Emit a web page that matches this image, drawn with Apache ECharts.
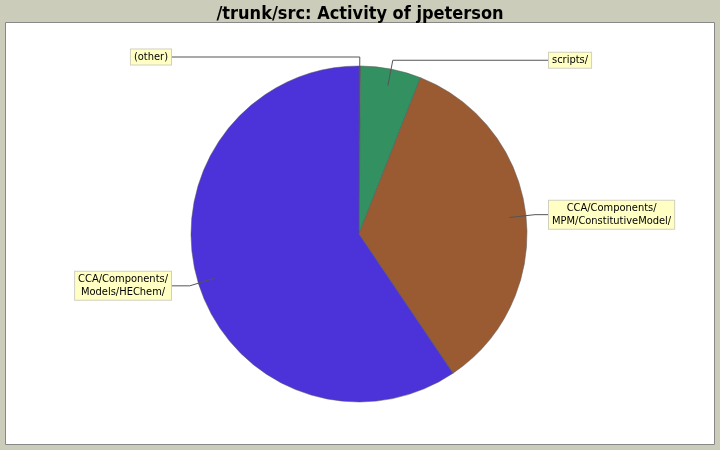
<!DOCTYPE html>
<html>
<head>
<meta charset="utf-8">
<script src="https://cdn.jsdelivr.net/npm/echarts@6/dist/echarts.min.js"></script>
<style>
html,body{margin:0;padding:0;background:#ccccbb;}
#chart{width:720px;height:450px;}
</style>
</head>
<body>
<div id="chart"></div>
<script>
var titleText = '/trunk/src: Activity of jpeterson';
var categories = ['(other)', 'scripts/', 'CCA/Components/\nMPM/ConstitutiveModel/', 'CCA/Components/\nModels/HEChem/'];
var values = [1, 41, 243, 418];
var colors = ['#555555', '#339060', '#9a5b33', '#4b33d9'];

var CX = 359, CY = 234, R = 168;

var chart = echarts.init(document.getElementById('chart'));
var data = categories.map(function (c, i) {
  return { name: c, value: values[i], itemStyle: { color: colors[i] } };
});
var labelData = categories.map(function (c, i) {
  return { name: c, value: values[i] };
});

chart.setOption({
  backgroundColor: '#ccccbb',
  animation: false,
  title: {
    text: titleText,
    left: 'center',
    top: 0,
    textStyle: { fontFamily: 'DejaVu Sans Condensed', fontWeight: 'bold', fontSize: 18, color: '#000' }
  },
  graphic: [{
    type: 'rect', z: -10,
    shape: { x: 5.5, y: 22.5, width: 709, height: 422 },
    style: { fill: '#ffffff', stroke: '#888888', lineWidth: 1 }
  }],
  series: [{
    type: 'pie',
    center: [CX, CY],
    radius: R,
    startAngle: 90,
    clockwise: true,
    data: data,
    itemStyle: { borderColor: '#555555', borderWidth: 0.5 },
    emphasis: { disabled: true },
    label: { show: false },
    labelLine: { show: false },
    z: 2
  }, {
    type: 'pie',
    center: [CX, CY],
    radius: R,
    startAngle: 90,
    clockwise: true,
    avoidLabelOverlap: false,
    silent: true,
    data: labelData,
    z: 5,
    itemStyle: { color: 'rgba(0,0,0,0)', borderWidth: 0 },
    emphasis: { disabled: true },
    label: {
      show: true,
      fontFamily: 'DejaVu Sans Condensed',
      fontSize: 11,
      lineHeight: 13,
      color: '#000',
      backgroundColor: '#ffffc4',
      borderColor: '#d0d0c0',
      borderWidth: 1,
      padding: [1, 3, 1, 3],
      align: 'center'
    },
    labelLine: { show: true, showAbove: true, length: 10, length2: 10, lineStyle: { color: '#555555', width: 1 } },
    labelLayout: function (p) {
      var p0 = p.labelLinePoints[0];
      var dx = p0[0] - CX, dy = p0[1] - CY;
      var len = Math.sqrt(dx * dx + dy * dy);
      dx /= len; dy /= len;
      var inner = [CX + dx * R * 0.9, CY + dy * R * 0.9];
      var elbow = [CX + dx * (R + 9), CY + dy * (R + 9)];
      var right = dx > 0.01;
      var lx = right ? 548 : 172;
      var w = p.labelRect.width;
      return {
        x: right ? lx + w / 2 : lx - w / 2,
        y: elbow[1],
        align: 'center',
        verticalAlign: 'middle',
        labelLinePoints: [inner, elbow, [lx, elbow[1]]]
      };
    }
  }]
});
</script>
</body>
</html>
